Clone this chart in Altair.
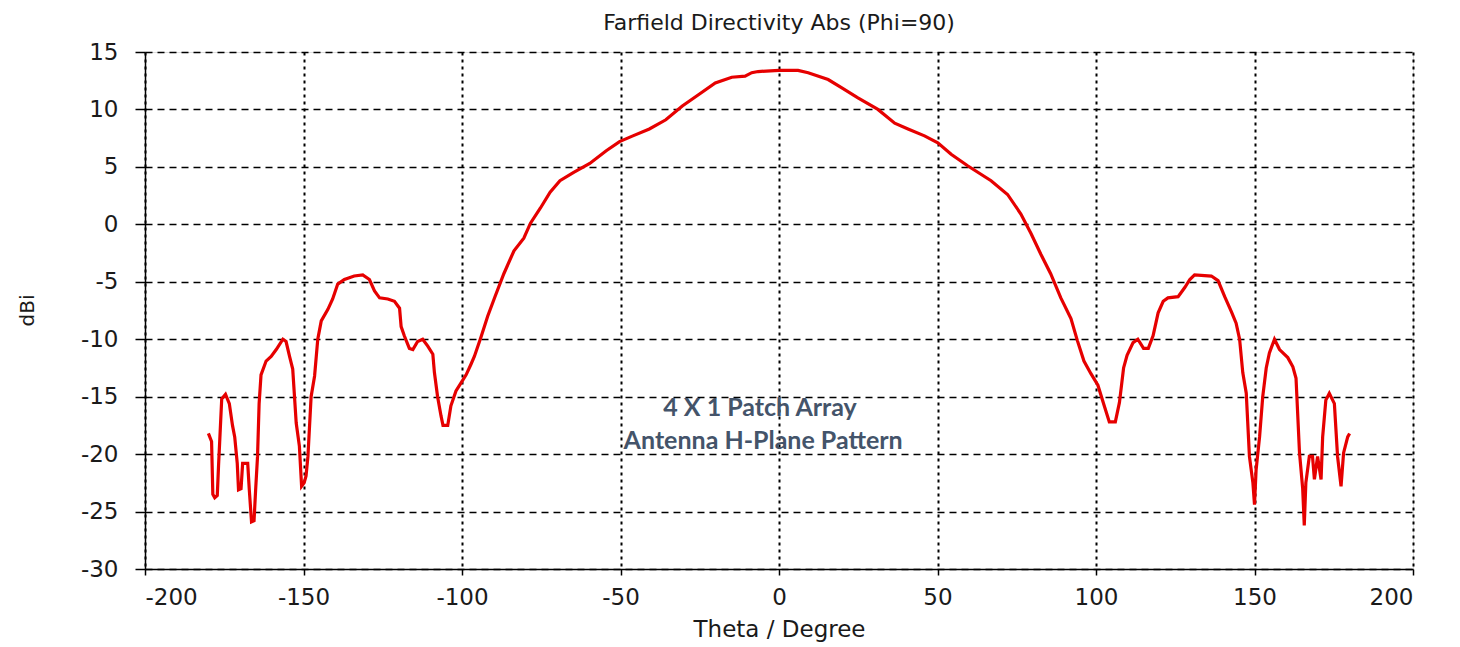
import altair as alt
import pandas as pd

theta = [-180, -179, -178.6, -178, -177.2, -176.8, -176.4, -175.8, -174.6, -173.4,
         -172.4, -171.7, -170.9, -170.5, -169.7, -169.2, -167.6, -167.1, -166.4, -165.6,
         -165.1, -164.5, -164.0, -163.4, -161.8, -160.2, -158.6, -156.5, -155.5, -154.4,
         -153.4, -152.3, -151.3, -150.6, -149.8, -149.2, -148.6, -147.6, -146.5, -145.5,
         -144.4, -142.3, -140.8, -139.2, -137.1, -134, -131.3, -129.2, -127.6, -126,
         -123.4, -121.3, -119.7, -119.2, -118.2, -116.6, -115.5, -114, -112.4, -110.8,
         -109.2, -108.7, -107.7, -106.6, -106.0, -104.5, -103.5, -101.9, -100.3, -98.7,
         -97.2, -96.1, -94, -91.9, -89.6, -86.8, -83.6, -80.5, -78.4, -75.3,
         -72.2, -69.1, -64.9, -59.7, -54.5, -50.3, -46.1, -40.9, -35.7, -30.5,
         -25.3, -20.1, -14.9, -10.7, -8.6, -6.6, 0, 6, 9.2, 15.5,
         19.7, 24.9, 31.2, 36.5, 40.7, 45.9, 50.1, 54.3, 59.5, 66.9,
         72.1, 76.3, 79.5, 82.6, 85.7, 88.9, 92.1, 94.1, 96.2, 98.4,
         100.6, 102.5, 104.2, 106.1, 107.4, 108.7, 109.8, 111.7, 113.2, 115.0,
         116.5, 118.0, 119.6, 121.2, 122.7, 125.9, 128, 129.6, 131.1, 136.4,
         138.5, 140.6, 142.7, 144.2, 145.3, 146.3, 147.4, 148.4, 149.5, 150.0,
         150.5, 151.6, 152.6, 153.7, 154.7, 156.3, 157.9, 160.5, 162.1, 163.1,
         164.2, 165.2, 165.7, 166.2, 167.3, 168.3, 168.9, 169.9, 171, 171.5,
         172.5, 173.6, 175.2, 176.2, 177.3, 178.1, 179.4, 180]

dbi = [-18.2, -18.9, -23.5, -23.8, -23.6, -21.0, -18.7, -15.2, -14.8, -15.6,
       -17.5, -18.5, -20.8, -23.1, -23.0, -20.8, -20.8, -23.1, -25.9, -25.8,
       -23.1, -20.2, -15.6, -13.1, -11.9, -11.5, -10.9, -10.0, -10.2, -11.5,
       -12.6, -17.3, -19.3, -22.8, -22.5, -21.9, -20.2, -15.0, -13.2, -10.0,
       -8.4, -7.4, -6.5, -5.2, -4.8, -4.5, -4.4, -4.8, -5.8, -6.4,
       -6.5, -6.7, -7.3, -8.9, -9.7, -10.8, -10.9, -10.2, -10.0, -10.6,
       -11.3, -12.9, -15.0, -16.7, -17.5, -17.5, -15.8, -14.5, -13.8, -13.1,
       -12.2, -11.5, -9.8, -8.0, -6.3, -4.3, -2.3, -1.2, 0.1, 1.4,
       2.8, 3.8, 4.5, 5.3, 6.4, 7.2, 7.7, 8.3, 9.1, 10.3,
       11.3, 12.3, 12.8, 12.9, 13.2, 13.3, 13.4, 13.4, 13.2, 12.6,
       11.9, 11.0, 10.0, 8.8, 8.3, 7.7, 7.1, 6.1, 5.1, 3.8,
       2.6, 0.9, -0.8, -2.6, -4.3, -6.4, -8.2, -10.1, -11.9, -13.0,
       -14.0, -15.7, -17.2, -17.2, -15.5, -12.5, -11.4, -10.3, -10.0, -10.8,
       -10.8, -9.7, -7.7, -6.7, -6.4, -6.3, -5.5, -4.8, -4.4, -4.5,
       -4.9, -6.3, -7.6, -8.6, -10.0, -12.9, -14.7, -20.2, -22.5, -24.4,
       -21.4, -18.5, -15.0, -12.5, -11.2, -10.0, -10.9, -11.6, -12.4, -13.4,
       -19.9, -23.0, -26.2, -22.5, -20.2, -20.2, -22.2, -20.2, -22.2, -18.5,
       -15.3, -14.7, -15.6, -20.2, -22.8, -19.9, -18.5, -18.2]

x_ticks = [-200, -150, -100, -50, 0, 50, 100, 150, 200]
y_ticks = [-30, -25, -20, -15, -10, -5, 0, 5, 10, 15]

note_lines = ["4 X 1 Patch Array", "Antenna H-Plane Pattern"]
note_x = [-6, -5]
note_y = [-16.0, -18.9]

df = pd.DataFrame({"theta": theta, "dbi": dbi, "i": list(range(len(theta)))})
notes = pd.DataFrame({"t": note_lines, "x": note_x, "y": note_y})

FONT = "DejaVu Sans"
LBL = "'' + datum.value"

xscale = alt.Scale(domain=[-200, 200], nice=False, zero=False)
yscale = alt.Scale(domain=[-30, 15], nice=False, zero=False)

base = alt.Chart(df).mark_line(opacity=0).encode(
    x=alt.X("theta:Q", scale=xscale,
            axis=alt.Axis(values=x_ticks, grid=True, gridDash=[3, 4], gridColor="#000000",
                          gridWidth=2, gridOpacity=1, domainColor="#000000", domainWidth=1.5,
                          tickColor="#000000", tickSize=6, tickWidth=1.5, labelPadding=11,
                          labelExpr=LBL,
                          labelFont=FONT, labelFontSize=23, labelColor="#1a1a1a",
                          title="Theta / Degree", titleFont=FONT, titleFontSize=23,
                          titleFontWeight="normal", titleColor="#1a1a1a",
                          titleX=634, titleY=60, titleBaseline="middle", titleAlign="center")),
    y=alt.Y("dbi:Q", scale=yscale,
            axis=alt.Axis(values=y_ticks, grid=True, gridDash=[7, 5], gridColor="#000000",
                          gridWidth=1.5, gridOpacity=1, domainColor="#000000", domainWidth=1.5,
                          tickColor="#000000", tickSize=10, tickWidth=1.5, labelPadding=17,
                          labelExpr=LBL,
                          labelFont=FONT, labelFontSize=23, labelColor="#1a1a1a",
                          title="dBi", titleFont=FONT, titleFontSize=20,
                          titleFontWeight="normal", titleColor="#1a1a1a",
                          titleX=-118, titleY=258, titleAngle=-90,
                          titleBaseline="middle", titleAlign="center")),
)

line = alt.Chart(df).mark_line(color="#e60000", strokeWidth=3.2, interpolate="linear").encode(
    x=alt.X("theta:Q", scale=xscale),
    y=alt.Y("dbi:Q", scale=yscale),
    order="i:Q",
)

text = alt.Chart(notes).mark_text(font="Lato", fontWeight="bold", fontSize=25,
                                  color="#44546a", align="center", baseline="middle").encode(
    x=alt.X("x:Q", scale=xscale),
    y=alt.Y("y:Q", scale=yscale),
    text="t:N",
)

chart = alt.layer(base, line, text).properties(
    width=1268, height=517,
    title=alt.TitleParams("Farfield Directivity Abs (Phi=90)", font=FONT, fontSize=22,
                          fontWeight="normal", color="#1a1a1a", offset=6),
    autosize=alt.AutoSizeParams(type="none"),
    padding={"left": 137, "top": 44, "right": 30, "bottom": 80},
).configure_view(stroke="#000000", strokeWidth=1.5).configure(background="#ffffff")

chart.save("out.html", embed_options={"renderer": "svg", "actions": False})
